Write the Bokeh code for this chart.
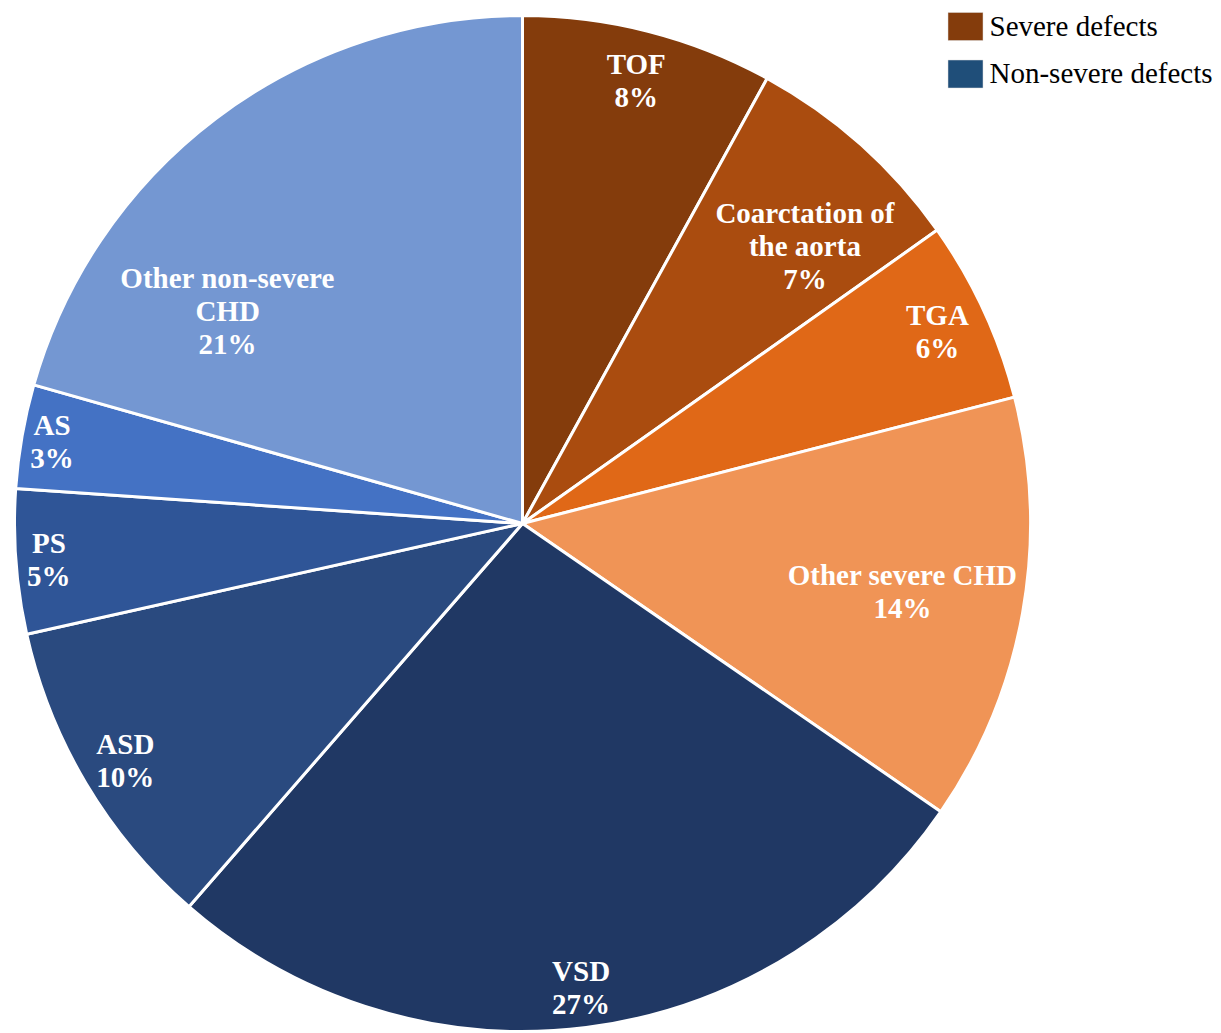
import math
from bokeh.plotting import figure
from bokeh.models import Range1d, ColumnDataSource
from bokeh.core.properties import value
from bokeh.embed import file_html
from bokeh.resources import INLINE

# ---- data ----
categories = ["TOF", "Coarctation of\nthe aorta", "TGA", "Other severe CHD", "VSD",
              "ASD", "PS", "AS", "Other non-severe\nCHD"]
shares = [8.0, 7.2, 5.8, 13.6, 26.8, 10.1, 4.6, 3.3, 20.6]
colors = ["#843C0C", "#AA4C0F", "#E06817", "#F09456", "#203864",
          "#2A4A7F", "#2F5597", "#4472C4", "#7497D2"]
legend_labels = ["Severe defects", "Non-severe defects"]
legend_colors = ["#843C0C", "#1F4E79"]

# ---- layout (label placement, style) ----
label_rfrac = [0.90, 0.78, 0.90, 0.76, 0.92, 0.91, 0.935, 0.94, 0.715]
label_dangle = [0, 3.7, 0, 0, 0, 0, 0, 0, -17.2]

W, H = 1221, 1033
cx, cy, R = 522, 510, 508

p = figure(width=W, height=H, output_backend="svg", toolbar_location=None,
           x_range=Range1d(0, W), y_range=Range1d(0, H), min_border=0)
p.axis.visible = False
p.grid.visible = False
p.outline_line_color = None
p.background_fill_color = "white"
p.border_fill_color = "white"

total = sum(shares)
starts, ends, lx, ly, labels = [], [], [], [], []
cum = 0.0
for i, v in enumerate(shares):
    a0 = cum / total * 360.0
    cum += v
    a1 = cum / total * 360.0
    starts.append(90 - a1)
    ends.append(90 - a0)
    mid = math.radians((a0 + a1) / 2 + label_dangle[i])
    r = R * label_rfrac[i]
    lx.append(cx + r * math.sin(mid))
    ly.append(cy + r * math.cos(mid))
    labels.append(f"{categories[i]}\n{round(v / total * 100)}%")

src = ColumnDataSource(dict(start=starts, end=ends, color=colors,
                            lx=lx, ly=ly, label=labels))
p.wedge(x=cx, y=cy, radius=R, start_angle="start", end_angle="end",
        start_angle_units="deg", end_angle_units="deg",
        fill_color="color", line_color="white", line_width=3, source=src)
p.text(x="lx", y="ly", text="label", source=src, text_color="white",
       text_font=value("Liberation Serif"), text_font_style="bold",
       text_font_size="29px", text_align="center", text_baseline="middle",
       text_line_height=1.03)

# ---- legend (drawn manually) ----
leg_x, leg_y0, leg_dy = 965, 1007, 47.5
for k, (lab, col) in enumerate(zip(legend_labels, legend_colors)):
    yk = leg_y0 - k * leg_dy
    p.rect(x=leg_x, y=yk, width=35, height=28, fill_color=col,
           line_color="#dddddd", line_width=0.5)
    p.text(x=[leg_x + 24], y=[yk + 1], text=[lab], text_color="#000000",
           text_font=value("Liberation Serif"), text_font_size="29px",
           text_align="left", text_baseline="middle")

open("out.html", "w").write(file_html(p, INLINE))
